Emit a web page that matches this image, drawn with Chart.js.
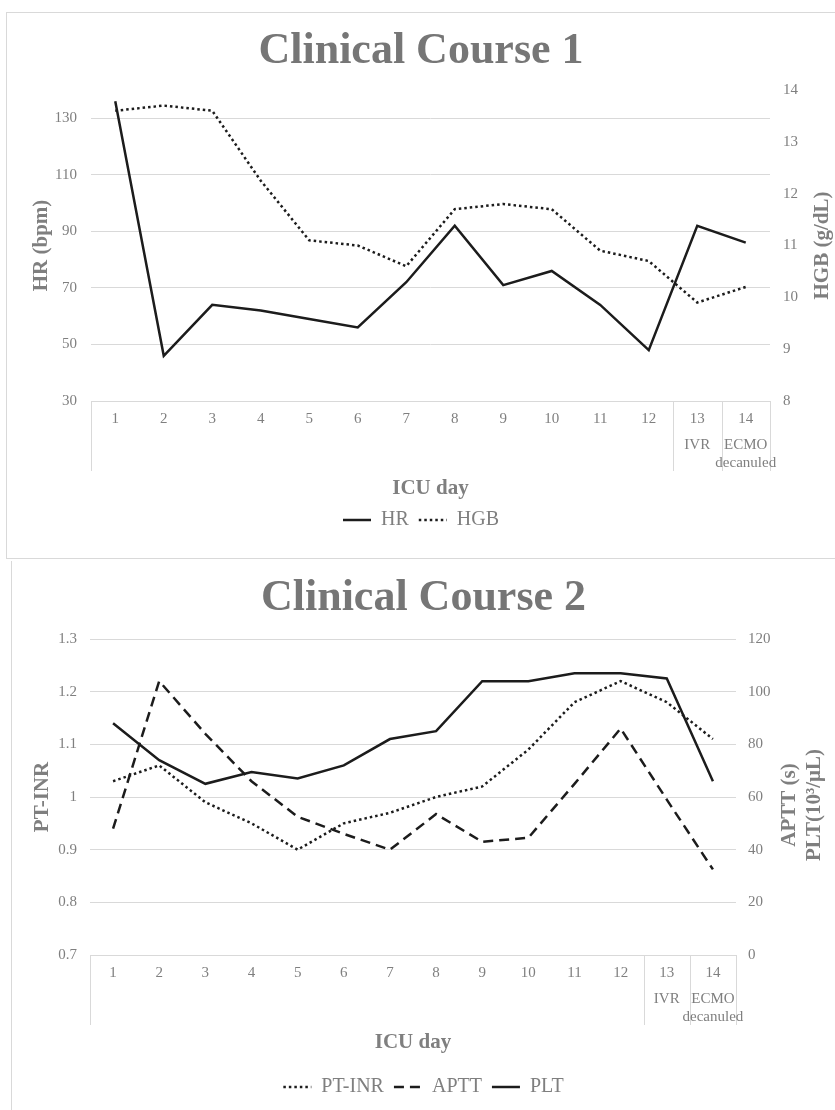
<!DOCTYPE html>
<html>
<head>
<meta charset="utf-8">
<title>Clinical Course</title>
<script src="https://cdn.jsdelivr.net/npm/chart.js@4.4.1/dist/chart.umd.min.js"></script>
<style>
  html, body { margin: 0; padding: 0; background: #fff; overflow: hidden; }
  .box { position: absolute; box-sizing: content-box; }
  #box1 { left: 6px; top: 12px; width: 830px; height: 545px; border: 1px solid #d9d9d9; }
  #box2 { left: 11px; top: 561px; width: 823px; height: 549px; border-left: 1px solid #d9d9d9; }
  canvas { display: block; }
</style>
</head>
<body>
<div class="box" id="box1"><canvas id="course1" width="828" height="545"></canvas></div>
<div class="box" id="box2"><canvas id="course2" width="823" height="549"></canvas></div>

<script>
// ---- data ----
const days = ["1", "2", "3", "4", "5", "6", "7", "8", "9", "10", "11", "12", "13", "14"];
const events = [[], [], [], [], [], [], [], [], [], [], [], [], ["IVR"], ["ECMO", "decanuled"]];

const hr = [136, 46, 64, 62, 59, 56, 72, 92, 71, 76, 64, 48, 92, 86];
const hgb = [13.6, 13.7, 13.6, 12.25, 11.1, 11.0, 10.6, 11.7, 11.8, 11.7, 10.9, 10.7, 9.9, 10.2];
const hrTicks = [30, 50, 70, 90, 110, 130];

const ptInr = [1.03, 1.06, 0.99, 0.95, 0.90, 0.95, 0.97, 1.00, 1.02, 1.09, 1.18, 1.22, 1.18, 1.11];
const aptt = [48, 104, 84, 66, 52.5, 46, 40, 53.5, 43, 44.5, 65, 86, 59, 32.5];
const plt = [88, 74, 65, 69.5, 67, 72, 82, 85, 104, 104, 107, 107, 105, 66];

// ---- look ----
const SERIF = "'Liberation Serif', 'Times New Roman', serif";
const GRID = "#d9d9d9";
const TEXT = "#7f7f7f";
const LINE = "#1c1c1c";
const DOT = [2.5, 3];
const DASH = [10, 6];

Chart.defaults.font.family = SERIF;
Chart.defaults.color = TEXT;

// draws the second category level, its dividers and the axis titles
const makeOverlay = (cfg) => ({
    id: "overlay",
    afterDraw(chart) {
        const { ctx, chartArea: area, scales } = chart;
        const x = scales.x;
        const step = x.getPixelForTick(1) - x.getPixelForTick(0);

        // group consecutive days with the same event
        const groups = [];
        events.forEach((ev, i) => {
            const key = ev.join(" ");
            if (i === 0 || key !== events[i - 1].join(" ")) {
                groups.push({ from: i, to: i, lines: ev });
            } else {
                groups[groups.length - 1].to = i;
            }
        });

        ctx.save();
        ctx.strokeStyle = GRID;
        ctx.lineWidth = 1;
        const edges = [x.getPixelForTick(0) - step / 2];
        groups.forEach((g) => edges.push(x.getPixelForTick(g.to) + step / 2));
        edges.forEach((px) => {
            const xx = Math.round(px) + 0.5;
            ctx.beginPath();
            ctx.moveTo(xx, area.bottom);
            ctx.lineTo(xx, area.bottom + 70);
            ctx.stroke();
        });

        ctx.fillStyle = TEXT;
        ctx.textAlign = "center";
        ctx.textBaseline = "middle";
        ctx.font = "15px " + SERIF;
        groups.forEach((g) => {
            const cx = (x.getPixelForTick(g.from) + x.getPixelForTick(g.to)) / 2;
            g.lines.forEach((t, k) => ctx.fillText(t, cx, area.bottom + 44 + k * 18));
        });

        // axis titles
        ctx.font = "bold 21px " + SERIF;
        ctx.fillText(cfg.bottomTitle, (area.left + area.right) / 2, area.bottom + 88);

        const midY = (area.top + area.bottom) / 2;
        const vertical = (text, px, py) => {
            ctx.save();
            ctx.translate(px, py);
            ctx.rotate(-Math.PI / 2);
            ctx.fillText(text, 0, 0);
            ctx.restore();
        };
        vertical(cfg.leftTitle, cfg.leftX, midY);
        cfg.rightTitle.forEach((t, k) => vertical(t, cfg.rightX[k], midY + cfg.rightShift));
        ctx.restore();
    },
});

// legend samples keep the dataset's dash pattern
const legendLabels = (chart) =>
    Chart.defaults.plugins.legend.labels.generateLabels(chart).map((item) => {
        const ds = chart.data.datasets[item.datasetIndex];
        return { ...item, lineDash: ds.borderDash, lineWidth: ds.borderWidth, strokeStyle: ds.borderColor };
    });

const legendOpts = {
    position: "bottom",
    labels: {
        usePointStyle: true,
        pointStyle: "line",
        pointStyleWidth: 28,
        padding: 10,
        color: TEXT,
        font: { size: 20 },
        generateLabels: legendLabels,
    },
};

const titleOpts = (text, top, bottom) => ({
    display: true,
    text,
    color: "#767676",
    font: { size: 44, weight: "bold", lineHeight: 1.2 },
    padding: { top, bottom },
});

const xAxis = (height) => ({
    type: "category",
    offset: true,
    grid: { display: false, drawTicks: false },
    border: { display: true, color: GRID, width: 1 },
    ticks: { padding: 9, color: TEXT, font: { size: 15 }, maxRotation: 0, autoSkip: false },
    afterFit: (s) => { s.height = height; },
});

const lineSet = (label, data, axis, dash) => ({
    label,
    data,
    yAxisID: axis,
    borderColor: LINE,
    backgroundColor: LINE,
    borderWidth: 2.5,
    borderDash: dash,
    borderCapStyle: "butt",
    pointRadius: 0,
    tension: 0,
    fill: false,
});

// ================= CLINICAL COURSE 1 =================
new Chart(document.getElementById("course1"), {
    type: "line",
    data: {
        labels: days,
        datasets: [
            lineSet("HR", hr, "y", []),
            lineSet("HGB", hgb, "y1", DOT),
        ],
    },
    options: {
        responsive: false,
        animation: false,
        layout: { padding: { top: 0, bottom: 18, left: 0, right: 0 } },
        plugins: {
            title: titleOpts("Clinical Course 1", 12, 12.2),
            legend: legendOpts,
            tooltip: { enabled: false },
        },
        scales: {
            x: xAxis(99),
            y: {
                position: "left",
                min: 30,
                max: 140,
                afterBuildTicks: (s) => { s.ticks = hrTicks.map((v) => ({ value: v })); },
                grid: { color: GRID, drawTicks: false },
                border: { display: false },
                ticks: { padding: 14, color: TEXT, font: { size: 15 } },
                afterFit: (s) => { s.width = 84; },
            },
            y1: {
                position: "right",
                min: 8,
                max: 14,
                grid: { display: false, drawTicks: false },
                border: { display: false },
                ticks: { stepSize: 1, padding: 13, color: TEXT, font: { size: 15 } },
                afterFit: (s) => { s.width = 65; },
            },
        },
    },
    plugins: [makeOverlay({
        bottomTitle: "ICU day",
        leftTitle: "HR (bpm)",
        leftX: 35,
        rightTitle: ["HGB (g/dL)"],
        rightX: [816],
        rightShift: 0,
    })],
});

// ================= CLINICAL COURSE 2 =================
new Chart(document.getElementById("course2"), {
    type: "line",
    data: {
        labels: days,
        datasets: [
            lineSet("PT-INR", ptInr, "y", DOT),
            lineSet("APTT", aptt, "y1", DASH),
            lineSet("PLT", plt, "y1", []),
        ],
    },
    options: {
        responsive: false,
        animation: false,
        layout: { padding: { top: 0, bottom: 3, left: 0, right: 0 } },
        plugins: {
            title: titleOpts("Clinical Course 2", 11, 14.2),
            legend: legendOpts,
            tooltip: { enabled: false },
        },
        scales: {
            x: xAxis(112),
            y: {
                position: "left",
                min: 0.7,
                max: 1.3,
                grid: { color: GRID, drawTicks: false },
                border: { display: false },
                ticks: {
                    stepSize: 0.1,
                    padding: 13,
                    color: TEXT,
                    font: { size: 15 },
                    callback: (v) => String(Number(v.toFixed(1))),
                },
                afterFit: (s) => { s.width = 78; },
            },
            y1: {
                position: "right",
                min: 0,
                max: 120,
                grid: { display: false, drawTicks: false },
                border: { display: false },
                ticks: { stepSize: 20, padding: 12, color: TEXT, font: { size: 15 } },
                afterFit: (s) => { s.width = 99; },
            },
        },
    },
    plugins: [makeOverlay({
        bottomTitle: "ICU day",
        leftTitle: "PT-INR",
        leftX: 31,
        rightTitle: ["APTT (s)", "PLT(10\u00B3/\u03BCL)"],
        rightX: [778, 803],
        rightShift: 8,
    })],
});
</script>
</body>
</html>
